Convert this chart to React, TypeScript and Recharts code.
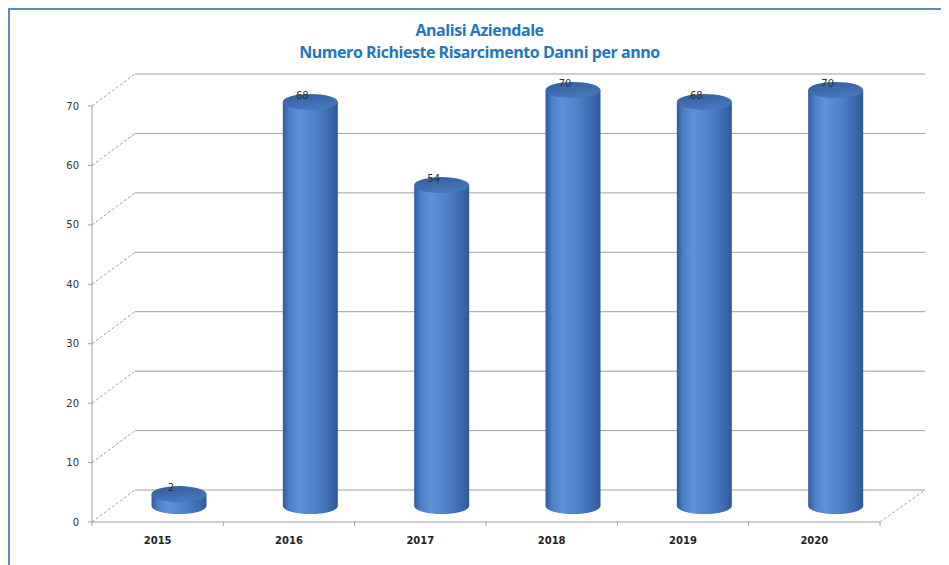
import React from 'react';
import { BarChart, Bar, XAxis, YAxis, CartesianGrid, LabelList } from 'recharts';

// --- dati ---
const anni = ['2015', '2016', '2017', '2018', '2019', '2020'];
const richieste = [2, 68, 54, 70, 68, 70];
const yTicks = [0, 10, 20, 30, 40, 50, 60, 70];

const data = anni.map((anno, i) => ({ anno, richieste: richieste[i] }));

// --- 3D look ---
const DEPTH_X = 43;
const DEPTH_Y = -32;
const OFF_X = 21.5; // bars sit half way into the depth
const OFF_Y = -16;
const RY = 8;
const PLOT_BOTTOM = 512;
const GRID = '#9f9f9f';

const GridLine = (props: any) => {
  const { x1, x2, y1 } = props;
  const y = y1;
  const isFloor = Math.abs(y - PLOT_BOTTOM) < 1;
  return (
    <g>
      <line x1={x1} y1={y} x2={x1 + DEPTH_X} y2={y + DEPTH_Y} stroke={GRID} strokeDasharray="3 2" />
      <line x1={x1 + DEPTH_X} y1={y + DEPTH_Y} x2={x2 + DEPTH_X + 2} y2={y + DEPTH_Y} stroke={GRID} />
      {isFloor && (
        <line x1={x2} y1={y} x2={x2 + DEPTH_X + 2} y2={y + DEPTH_Y} stroke={GRID} strokeDasharray="3 2" />
      )}
    </g>
  );
};

const Cylinder = (props: any) => {
  const { x, y, width, height } = props;
  const rx = width / 2;
  const cx = x + rx + OFF_X;
  const top = y + OFF_Y;
  const bottom = y + height + OFF_Y;
  const body = `M${cx - rx},${top} L${cx - rx},${bottom} A${rx},${RY} 0 0 0 ${cx + rx},${bottom} L${cx + rx},${top} Z`;
  return (
    <g>
      <path d={body} fill="url(#cylBody)" />
      <ellipse cx={cx} cy={top} rx={rx} ry={RY} fill="url(#cylTop)" />
    </g>
  );
};

const ValueLabel = (props: any) => {
  const { x, y, width, value } = props;
  const cx = x + width / 2 + OFF_X;
  return (
    <text x={cx - 8} y={y + OFF_Y - 3} textAnchor="middle" fontSize={10} fill="#333" fontFamily="DejaVu Sans, sans-serif">
      {value}
    </text>
  );
};

const BAND = 788 / anni.length;

const YearTick = (props: any) => {
  const { x, y, payload, index } = props;
  const axisY = PLOT_BOTTOM;
  return (
    <g>
      <line x1={x - BAND / 2} y1={axisY} x2={x - BAND / 2} y2={axisY + 4} stroke={GRID} />
      {index === anni.length - 1 && (
        <line x1={x + BAND / 2} y1={axisY} x2={x + BAND / 2} y2={axisY + 4} stroke={GRID} />
      )}
      <text x={x} y={y + 14} textAnchor="middle" fontSize={10} fontWeight="bold" fill="#222" fontFamily="DejaVu Sans, sans-serif">
        {payload.value}
      </text>
    </g>
  );
};

export default function App() {
  return (
    <div
      style={{
        position: 'relative',
        width: 941,
        height: 557,
        boxSizing: 'border-box',
        borderLeft: '2px solid #5a8bc4',
        borderTop: '2px solid #5a8bc4',
        background: '#fff',
      }}
    >
      <div
        style={{
          position: 'absolute',
          top: 9,
          left: 0,
          width: 939,
          textAlign: 'center',
          color: '#2277bb',
          fontFamily: '"Liberation Sans Narrow", "Open Sans", sans-serif',
          fontWeight: 'bold',
          fontSize: 16,
          letterSpacing: -0.45,
          lineHeight: '22px',
        }}
      >
        <div>Analisi Aziendale</div>
        <div>Numero Richieste Risarcimento Danni per anno</div>
      </div>
      <BarChart width={939} height={555} data={data} margin={{ top: 96, right: 69, bottom: 13, left: 22 }}>
        <defs>
          <linearGradient id="cylBody" x1="0" y1="0" x2="1" y2="0">
            <stop offset="0%" stopColor="#2f5c9c" />
            <stop offset="12%" stopColor="#4b7fc6" />
            <stop offset="30%" stopColor="#5d92da" />
            <stop offset="60%" stopColor="#4c80c7" />
            <stop offset="90%" stopColor="#3966aa" />
            <stop offset="100%" stopColor="#2c5896" />
          </linearGradient>
          <linearGradient id="cylTop" x1="0" y1="0" x2="0.4" y2="1">
            <stop offset="0%" stopColor="#335d9c" />
            <stop offset="100%" stopColor="#4677bb" />
          </linearGradient>
        </defs>
        <CartesianGrid vertical={false} horizontal={(p: any) => <GridLine key={p.key} {...p} />} />
        <XAxis
          dataKey="anno"
          height={30}
          axisLine={{ stroke: GRID }}
          tickLine={false}
          interval={0}
          tick={<YearTick />}
        />
        <YAxis
          width={60}
          domain={[0, 70]}
          ticks={yTicks}
          axisLine={{ stroke: GRID }}
          tickLine={{ stroke: GRID }}
          tickSize={4}
          tickMargin={9}
          tick={{ fontSize: 10, fill: '#333', fontFamily: 'DejaVu Sans, sans-serif' }}
        />
        <Bar dataKey="richieste" barSize={55} shape={<Cylinder />} isAnimationActive={false}>
          <LabelList dataKey="richieste" content={<ValueLabel />} />
        </Bar>
      </BarChart>
    </div>
  );
}
